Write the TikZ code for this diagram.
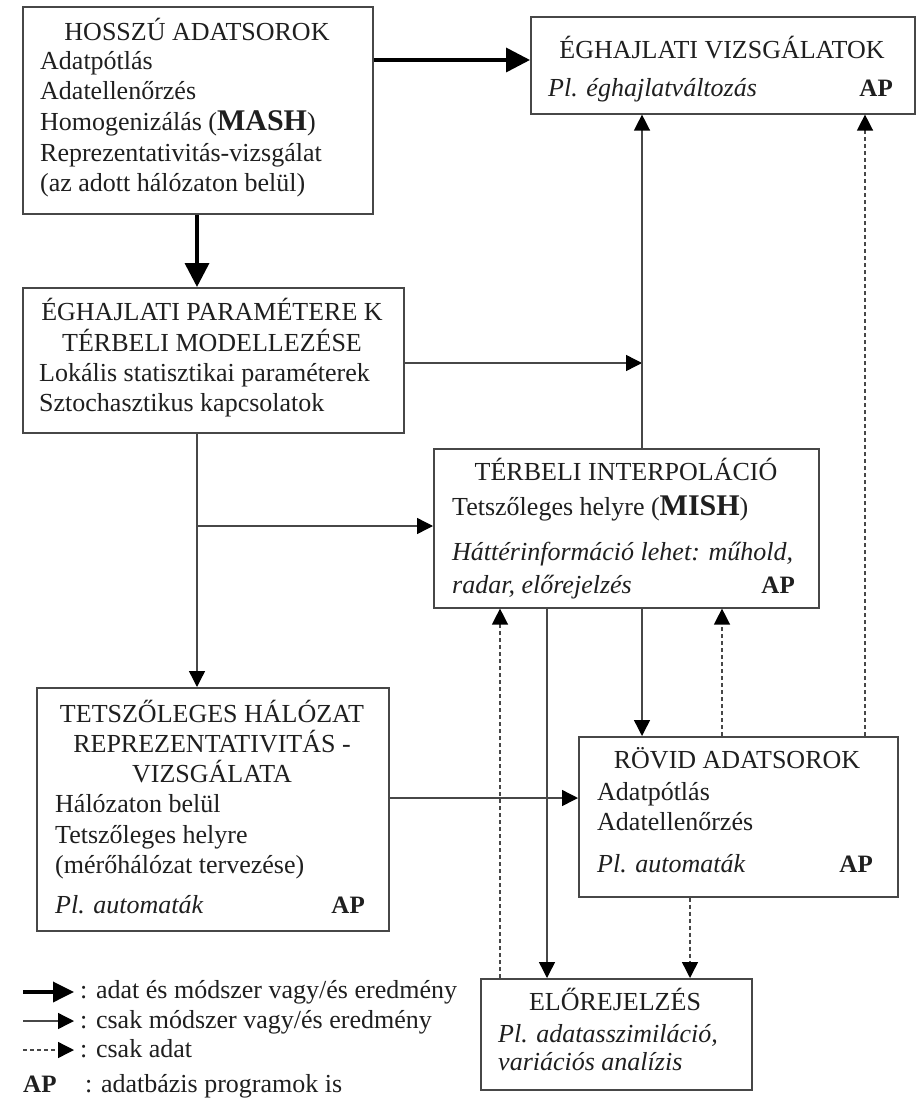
\documentclass[tikz,border=0pt]{standalone}
\usepackage{fontspec}
\setmainfont{Liberation Serif}
\usetikzlibrary{arrows.meta,calc}
\begin{document}
\begin{tikzpicture}[x=1pt,y=-1pt,
  box/.style={draw=black!72,line width=1.6pt,inner sep=0pt,anchor=north west},
  txt/.style={inner sep=0pt,font=\fontsize{26}{30}\selectfont,text=black!88},
  tl/.style={txt,anchor=base west},
  tc/.style={txt,anchor=base},
  tr/.style={txt,anchor=base east,font=\fontsize{25}{30}\selectfont\bfseries},
  thickarr/.style={draw=black,line width=3.6pt,-{Triangle[length=24pt,width=24pt]}},
  thinarr/.style={draw=black!72,line width=1.4pt,-{Triangle[length=16pt,width=16pt,color=black]}},
  dasharr/.style={thinarr,dash pattern=on 4pt off 3pt}
]
\useasboundingbox[fill=white] (0,0) rectangle (922,1099);

% ---------- boxes ----------
\node[box,minimum width=350pt,minimum height=207pt] (hossz) at (22,6) {};
\node[box,minimum width=384pt,minimum height=97pt]  (eghv)  at (530,16) {};
\node[box,minimum width=381pt,minimum height=145pt] (param) at (22,287) {};
\node[box,minimum width=385pt,minimum height=159pt] (terb)  at (433,448) {};
\node[box,minimum width=352pt,minimum height=243pt] (tetsz) at (36,687) {};
\node[box,minimum width=319pt,minimum height=160pt] (rovid) at (578,736) {};
\node[box,minimum width=271pt,minimum height=111pt] (elo)   at (480,978) {};

% ---------- texts ----------
\node[tc] (h1) at (197,41) {HOSSZÚ ADATSOROK};
\node[tl] (h2) at (40,70) {Adatpótlás};
\node[tl] (h3) at (40,100) {Adatellenőrzés};
\node[tl] (h4) at (40,131) {Homogenizálás (\textbf{\fontsize{30}{30}\selectfont MASH})};
\node[tl] (h5) at (40,162) {Reprezentativitás-vizsgálat};
\node[tl] (h6) at (40,192) {(az adott hálózaton belül)};

\node[tc] (e1) at (722,59) {ÉGHAJLATI VIZSGÁLATOK};
\node[tl] (e2) at (548,97) {\itshape Pl. éghajlatváltozás};
\node[tr] (e3) at (893,97) {AP};

\node[tc] (p1) at (212,320) {ÉGHAJLATI PARAMÉTERE K};
\node[tc] (p2) at (212,351) {TÉRBELI MODELLEZÉSE};
\node[tl] (p3) at (39,381) {Lokális statisztikai paraméterek};
\node[tl] (p4) at (39,411) {Sztochasztikus kapcsolatok};

\node[tc] (r1) at (626,480) {TÉRBELI INTERPOLÁCIÓ};
\node[tl] (r2) at (452,515) {Tetszőleges helyre (\textbf{\fontsize{30}{30}\selectfont MISH})};
\node[tl] (r3) at (452,560) {\itshape Háttérinformáció lehet: műhold,};
\node[tl] (r4) at (452,593) {\itshape radar, előrejelzés};
\node[tr] (r5) at (795,593) {AP};

\node[tc] (s1) at (212,722) {TETSZŐLEGES HÁLÓZAT};
\node[tc] (s2) at (212,752) {REPREZENTATIVITÁS -};
\node[tc] (s3) at (212,782) {VIZSGÁLATA};
\node[tl] (s4) at (55,812) {Hálózaton belül};
\node[tl] (s5) at (55,843) {Tetszőleges helyre};
\node[tl] (s6) at (55,873) {(mérőhálózat tervezése)};
\node[tl] (s7) at (55,913) {\itshape Pl. automaták};
\node[tr] (s8) at (365,913) {AP};

\node[tc] (v1) at (737,768) {RÖVID ADATSOROK};
\node[tl] (v2) at (597,800) {Adatpótlás};
\node[tl] (v3) at (597,830) {Adatellenőrzés};
\node[tl] (v4) at (597,872) {\itshape Pl. automaták};
\node[tr] (v5) at (873,872) {AP};

\node[tc] (f1) at (615,1010) {ELŐREJELZÉS};
\node[tl] (f2) at (498,1042) {\itshape Pl. adatasszimiláció,};
\node[tl] (f3) at (498,1070) {\itshape variációs analízis};

% ---------- helper coordinates ----------
\coordinate (y60) at (0,60);
\coordinate (y363) at (0,363);
\coordinate (y526) at (0,526);
\coordinate (y798) at (0,798);
\coordinate (x197) at (197,0);
\coordinate (x500) at (500,0);
\coordinate (x547) at (547,0);
\coordinate (x642) at (642,0);
\coordinate (x690) at (690,0);
\coordinate (x722) at (722,0);
\coordinate (x865) at (865,0);
\coordinate (join) at (x642 |- y363);
\coordinate (branch) at (x197 |- y526);

% ---------- connectors ----------
\draw[thickarr] (hossz.east |- y60) -- (eghv.west |- y60);
\draw[thickarr] (hossz.south -| x197) -- (param.north -| x197);
\draw[thinarr] (param.east |- y363) -- (join);
\draw[thinarr] (terb.north -| x642) -- (eghv.south -| x642);
\draw[thinarr] (param.south -| x197) -- (tetsz.north -| x197);
\draw[thinarr] (branch) -- (terb.west |- y526);
\draw[thinarr] (tetsz.east |- y798) -- (rovid.west |- y798);
\draw[thinarr] (terb.south -| x642) -- (rovid.north -| x642);
\draw[dasharr] (rovid.north -| x722) -- (terb.south -| x722);
\draw[dasharr] (rovid.north -| x865) -- (eghv.south -| x865);
\draw[dasharr] (elo.north -| x500) -- (terb.south -| x500);
\draw[thinarr] (terb.south -| x547) -- (elo.north -| x547);
\draw[dasharr] (rovid.south -| x690) -- (elo.north -| x690);

% ---------- legend ----------
\coordinate (la1) at (23,992);  \coordinate (lb1) at (74,992);
\coordinate (la2) at (23,1021); \coordinate (lb2) at (74,1021);
\coordinate (la3) at (23,1050); \coordinate (lb3) at (74,1050);
\draw[thickarr,-{Triangle[length=21pt,width=20pt]}] (la1) -- (lb1);
\draw[thinarr] (la2) -- (lb2);
\draw[dasharr] (la3) -- (lb3);
\node[tl] (l1) at (80,998) {: adat és módszer vagy/és eredmény};
\node[tl] (l2) at (80,1028) {: csak módszer vagy/és eredmény};
\node[tl] (l3) at (80,1057) {: csak adat};
\node[txt,anchor=base west,font=\fontsize{25}{30}\selectfont\bfseries] (l4a) at (23,1092) {AP};
\node[tl] (l4) at (85,1092) {: adatbázis programok is};
\end{tikzpicture}
\end{document}
